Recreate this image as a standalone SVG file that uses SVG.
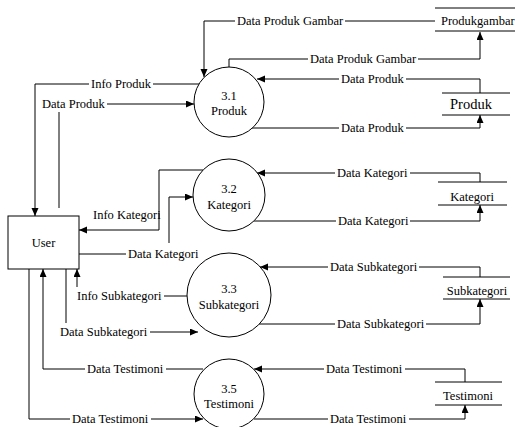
<svg xmlns="http://www.w3.org/2000/svg" width="515" height="427" viewBox="0 0 515 427">
<style>
text{font-family:"Liberation Serif","Times New Roman",serif;font-size:12.5px;fill:#000}
.c{text-anchor:middle}
.ln{fill:none;stroke:#000;stroke-width:1}
.nd{fill:#fff;stroke:#000;stroke-width:1}
</style>
<defs>
<marker id="ah" markerUnits="userSpaceOnUse" markerWidth="9" markerHeight="8" refX="8" refY="3.5" orient="auto">
<path d="M0,0 L8,3.5 L0,7 z" fill="#000"/>
</marker>
</defs>
<rect width="515" height="427" fill="#fff"/>
<g id="connectors">
<path class="ln" marker-end="url(#ah)" d="M435,21 H345 M235,21 H204 V77"/>
<text x="237" y="25">Data Produk Gambar</text>
<path class="ln" marker-end="url(#ah)" d="M229,67 V59 H308 M418,59 H480 V32"/>
<text x="310" y="63">Data Produk Gambar</text>
<path class="ln" marker-end="url(#ah)" d="M480,93 V79 H406 M339,79 H257"/>
<text x="341" y="83">Data Produk</text>
<path class="ln" marker-end="url(#ah)" d="M252,128 H339 M406,128 H480 V115"/>
<text x="341" y="132">Data Produk</text>
<path class="ln" marker-end="url(#ah)" d="M199,84 H153 M89,84 H35 V216"/>
<text x="91" y="88">Info Produk</text>
<path class="ln" marker-end="url(#ah)" d="M59,208 V112 M107,104 H194"/>
<text x="42" y="108">Data Produk</text>
<path class="ln" marker-end="url(#ah)" d="M203,170 H159 V230 H79"/>
<text x="93" y="219">Info Kategori</text>
<path class="ln" marker-end="url(#ah)" d="M79,254 H126 M169,243 V197 H193"/>
<text x="128" y="258">Data Kategori</text>
<path class="ln" marker-end="url(#ah)" d="M480,182 V173 H410 M335,173 H257"/>
<text x="337" y="177">Data Kategori</text>
<path class="ln" marker-end="url(#ah)" d="M254,221 H336 M410,221 H480 V205"/>
<text x="338" y="225">Data Kategori</text>
<path class="ln" marker-end="url(#ah)" d="M480,277 V267 H419 M328,267 H260"/>
<text x="330" y="271">Data Subkategori</text>
<path class="ln" marker-end="url(#ah)" d="M259,324 H335 M426,324 H480 V299"/>
<text x="337" y="328">Data Subkategori</text>
<path class="ln" marker-end="url(#ah)" d="M187,296 H164 M77,287 V269"/>
<text x="77" y="300">Info Subkategori</text>
<path class="ln" marker-end="url(#ah)" d="M66,269 V323 M150,332 H198"/>
<text x="60" y="336">Data Subkategori</text>
<path class="ln" marker-end="url(#ah)" d="M203,369 H166 M85,369 H43 V269"/>
<text x="87" y="373">Data Testimoni</text>
<path class="ln" marker-end="url(#ah)" d="M29,269 V419 H70 M151,419 H203"/>
<text x="72" y="423">Data Testimoni</text>
<path class="ln" marker-end="url(#ah)" d="M465,382 V369 H405 M324,369 H254"/>
<text x="326" y="373">Data Testimoni</text>
<path class="ln" marker-end="url(#ah)" d="M254,419 H328 M409,419 H465 V405"/>
<text x="330" y="423">Data Testimoni</text>
</g>
<g id="user">
<rect class="nd" x="8" y="216" width="71" height="53"/>
<text class="c" x="43.5" y="247">User</text>
</g>
<g id="p31">
<circle class="nd" cx="229" cy="102" r="35"/>
<text class="c" x="229" y="100">3.1</text>
<text class="c" x="229" y="115">Produk</text>
</g>
<g id="p32">
<circle class="nd" cx="229" cy="195" r="36"/>
<text class="c" x="229" y="193">3.2</text>
<text class="c" x="229" y="209">Kategori</text>
</g>
<g id="p33">
<circle class="nd" cx="229" cy="295" r="42"/>
<text class="c" x="229" y="293">3.3</text>
<text class="c" x="229" y="309">Subkategori</text>
</g>
<g id="p35">
<circle class="nd" cx="229" cy="394" r="35"/>
<text class="c" x="229" y="393">3.5</text>
<text class="c" x="229" y="408">Testimoni</text>
</g>
<g id="ds-produkgambar">
<path class="ln" d="M435,8 H515 M435,31 H515"/>
<text x="441" y="25">Produkgambar</text>
</g>
<g id="ds-produk">
<path class="ln" d="M442,93 H510 M442,115 H510"/>
<text class="c" x="471" y="109" style="font-size:14.5px">Produk</text>
</g>
<g id="ds-kategori">
<path class="ln" d="M438,182 H507 M438,205 H507"/>
<text class="c" x="472" y="201">Kategori</text>
</g>
<g id="ds-subkategori">
<path class="ln" d="M443,277 H510 M443,299 H510"/>
<text class="c" x="477" y="295">Subkategori</text>
</g>
<g id="ds-testimoni">
<path class="ln" d="M435,382 H502 M435,405 H502"/>
<text class="c" x="468" y="400">Testimoni</text>
</g>
</svg>
